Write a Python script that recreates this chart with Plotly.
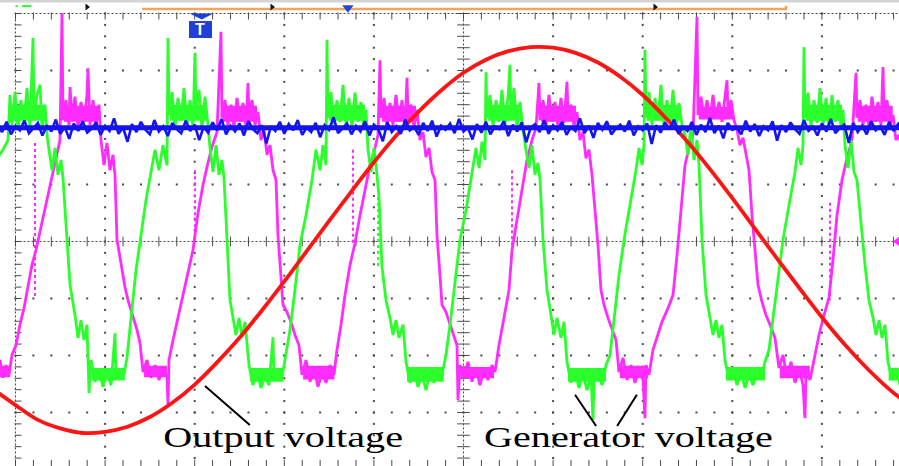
import numpy as np
import plotly.graph_objects as go

# ---------------------------------------------------------------------------
# Oscilloscope capture: 2 ms/div time base, 10 x 8 division graticule.
# Vertical values are in divisions.
# ---------------------------------------------------------------------------

# Output voltage (red), sampled every 0.5 ms
red_t = [-0.5, 0.0, 0.5, 1.0, 1.5, 2.0, 2.5, 3.0, 3.5, 4.0, 4.5, 5.0, 5.5, 6.0,
         6.5, 7.0, 7.5, 8.0, 8.5, 9.0, 9.5, 10.0, 10.5, 11.0, 11.5, 12.0, 12.5,
         13.0, 13.5, 14.0, 14.5, 15.0, 15.5, 16.0, 16.5, 17.0, 17.5, 18.0, 18.5,
         19.0, 19.5, 20.0]
red_v = [-2.59, -2.87, -3.13, -3.28, -3.36, -3.34, -3.25, -3.08, -2.83, -2.51,
         -2.12, -1.69, -1.21, -0.70, -0.17, 0.36, 0.88, 1.39, 1.86, 2.28, 2.65,
         2.96, 3.19, 3.34, 3.41, 3.40, 3.31, 3.14, 2.89, 2.57, 2.18, 1.75, 1.27,
         0.76, 0.23, -0.30, -0.82, -1.33, -1.80, -2.22, -2.59, -2.90]

# Generator phase voltage (green)
green_t = [
    -0.436, -0.279, -0.167, -0.123, -0.078, -0.011, 0.056, 0.123, 0.190, 0.257,
    0.324, 0.391, 0.413, 0.480, 0.547, 0.592, 0.658, 0.703,
    0.748, 0.815, 0.882, 0.949, 1.016, 1.060, 1.150, 1.217, 1.328,
    1.395, 1.462, 1.529, 1.596,
    1.641, 1.685, 1.775, 1.864, 1.953, 2.042, 2.132, 2.221, 2.243, 2.333, 2.422, 2.489,
    2.578, 2.690, 2.801, 2.913, 3.025, 3.114, 3.203, 3.292, 3.382,
    3.404, 3.426, 3.493, 3.560, 3.627, 3.694, 3.761, 3.828, 3.895, 3.962, 4.007,
    4.029, 4.096, 4.163, 4.230, 4.297,
    4.342, 4.408, 4.475, 4.542, 4.609, 4.654, 4.721, 4.788, 4.855,
    4.922, 4.989, 5.056, 5.123, 5.167,
    5.212, 5.301, 5.391, 5.480, 5.569, 5.658, 5.748, 5.770, 5.859, 5.949, 6.038,
    6.127, 6.239, 6.350, 6.484, 6.618, 6.708, 6.797, 6.864, 6.931,
    6.953, 6.975, 7.042, 7.109, 7.176, 7.243, 7.310, 7.377, 7.444, 7.511, 7.578,
    7.645, 7.712, 7.779, 7.824,
    7.868, 7.935, 8.002, 8.069, 8.114, 8.181, 8.270, 8.359,
    8.426, 8.493, 8.560, 8.650,
    8.717, 8.806, 8.895, 8.984, 9.074, 9.163, 9.252, 9.342, 9.431, 9.520, 9.609,
    9.699, 9.810, 9.922, 10.056, 10.190, 10.279, 10.346, 10.413, 10.480,
    10.502, 10.525, 10.592, 10.658, 10.725, 10.792, 10.859, 10.926, 10.993, 11.038,
    11.060, 11.127, 11.194, 11.261, 11.328,
    11.395, 11.462, 11.529, 11.596, 11.663, 11.708, 11.775, 11.864, 11.953,
    12.020, 12.087, 12.176, 12.243,
    12.310, 12.400, 12.489, 12.578, 12.667, 12.757, 12.846, 12.891, 12.913, 13.002,
    13.092, 13.181, 13.270,
    13.359, 13.471, 13.583, 13.717, 13.850, 13.917, 13.984, 14.029,
    14.051, 14.074, 14.141, 14.208, 14.275, 14.342, 14.408, 14.475, 14.542, 14.609,
    14.676, 14.743, 14.810, 14.877,
    14.944, 15.011, 15.078, 15.145, 15.212, 15.257, 15.324, 15.413, 15.502,
    15.569, 15.636, 15.703, 15.770,
    15.837, 15.926, 16.016, 16.105, 16.194, 16.283, 16.373, 16.462, 16.551, 16.641,
    16.730, 16.819,
    16.908, 17.020, 17.132, 17.266, 17.400, 17.467, 17.533, 17.578,
    17.600, 17.623, 17.690, 17.757, 17.824, 17.891, 17.958, 18.025, 18.092, 18.158,
    18.225, 18.292, 18.359, 18.426, 18.471,
    18.516, 18.583, 18.650, 18.717, 18.783, 18.873, 18.962, 19.051, 19.141,
    19.208, 19.275, 19.342, 19.408,
    19.475, 19.565, 19.654, 19.743, 19.833,
]
green_v = [
    1.43, 1.61, 1.78, 2.57, 2.04, 2.62, 1.96, 2.48, 2.10, 2.69,
    1.99, 3.57, 2.13, 2.57, 2.75, 1.96, 2.40, 1.87,
    1.61, 1.25, 1.64, 1.17, 1.43, 1.11, 0.03, -0.76, -1.29,
    -1.69, -1.38, -1.73, -1.46,
    -2.66, -2.08, -2.46, -2.25, -2.55, -2.29, -2.52, -1.61, -2.39, -2.25, -2.34, -2.03,
    -1.38, -0.50, 0.11, 0.73, 1.22, 1.61, 1.25, 1.69, 1.34,
    3.57, 2.22, 2.62, 1.99, 2.52, 2.13, 2.69, 2.04, 2.48, 2.01, 3.31,
    2.31, 2.66, 1.96, 2.54, 2.04,
    1.64, 1.22, 1.69, 1.17, 1.43, 1.11, 0.03, -1.03, -1.34,
    -1.64, -1.34, -1.68, -1.41, -1.73,
    -2.17, -2.52, -2.29, -2.57, -2.34, -2.52, -1.68, -2.43, -2.25, -2.38, -1.99,
    -1.55, -0.85, -0.06, 0.46, 1.08, 1.61, 1.25, 1.69, 1.34,
    3.54, 2.17, 2.62, 2.01, 2.48, 2.10, 2.75, 2.04, 2.52, 1.99, 2.61,
    2.10, 2.45, 1.96, 2.31,
    1.61, 1.22, 1.64, 1.17, 0.78, -0.45, -1.03, -1.34,
    -1.64, -1.38, -1.69, -1.46,
    -2.11, -2.48, -2.25, -2.55, -2.34, -2.61, -2.29, -2.48, -2.22, -2.34, -1.99,
    -1.46, -0.76, 0.03, 0.55, 1.17, 1.64, 1.29, 1.75, 1.43,
    2.97, 2.17, 2.57, 2.01, 2.48, 2.10, 2.66, 2.04, 2.54, 3.10,
    2.13, 2.69, 1.99, 2.45, 1.96,
    1.61, 1.29, 1.69, 1.17, 1.38, 1.08, 0.03, -0.85, -1.29,
    -1.64, -1.34, -1.69, -1.41,
    -2.11, -2.48, -2.25, -2.57, -2.31, -2.61, -2.34, -3.13, -2.43, -2.29,
    -2.52, -2.17, -1.99,
    -1.38, -0.59, 0.03, 0.64, 1.25, 1.64, 1.34, 1.69,
    3.36, 2.18, 2.62, 2.04, 2.52, 2.13, 2.75, 2.01, 2.48, 2.08,
    2.66, 1.99, 2.43, 2.04,
    1.87, 1.52, 2.04, 1.43, 1.78, 1.34, 0.03, -0.94, -1.34,
    -1.64, -1.38, -1.69, -1.46,
    -2.08, -2.43, -2.22, -2.52, -2.29, -2.57, -2.34, -2.52, -2.25, -2.39,
    -2.11, -1.90,
    -1.34, -0.59, 0.03, 0.64, 1.22, 1.64, 1.34, 1.69,
    3.41, 2.17, 2.61, 2.01, 2.48, 2.08, 2.69, 2.04, 2.52, 1.99,
    2.57, 2.10, 2.48, 2.01, 2.31,
    1.69, 1.29, 1.78, 1.22, 1.08, 0.29, -0.41, -1.03, -1.34,
    -1.64, -1.38, -1.69, -1.46,
    -2.11, -2.43, -2.22, -2.52, -2.29,
]

# Generator phase voltage (magenta)
magenta_t = [
    -0.436, -0.346, -0.279, -0.212, -0.145, -0.078,
    0.011, 0.100, 0.190, 0.279, 0.368, 0.458, 0.547, 0.636, 0.725, 0.815, 0.904, 0.993,
    1.038, 1.060, 1.127, 1.194, 1.217, 1.261, 1.328, 1.395, 1.462, 1.529, 1.596,
    1.618, 1.663, 1.730, 1.797, 1.864,
    1.908, 1.975, 2.042, 2.109, 2.176, 2.221, 2.266, 2.355, 2.444,
    2.511, 2.578, 2.645, 2.712, 2.779,
    2.846, 2.935, 3.025, 3.114, 3.203, 3.292, 3.382, 3.404, 3.426,
    3.516, 3.627, 3.739, 3.850, 3.962, 4.074, 4.185, 4.275, 4.386, 4.498,
    4.587, 4.609, 4.676, 4.743, 4.810, 4.877, 4.944, 5.011, 5.078, 5.145, 5.190,
    5.212, 5.279, 5.346, 5.413,
    5.480, 5.547, 5.614, 5.681, 5.748, 5.815, 5.859, 5.926, 5.971,
    6.060, 6.150, 6.239, 6.328,
    6.395, 6.484, 6.574, 6.663, 6.752, 6.842, 6.931, 7.020, 7.109, 7.176,
    7.266, 7.355, 7.467, 7.578, 7.690, 7.801, 7.913, 8.025, 8.092,
    8.136, 8.158, 8.225, 8.292, 8.359, 8.426, 8.493, 8.560, 8.627, 8.694, 8.739,
    8.761, 8.828, 8.895, 8.962,
    9.029, 9.096, 9.163, 9.230, 9.297, 9.364, 9.408, 9.475, 9.520,
    9.609, 9.699, 9.788, 9.855,
    9.877, 9.922, 10.011, 10.100, 10.190, 10.279, 10.368, 10.458, 10.547, 10.636, 10.703,
    10.792, 10.904, 11.016, 11.083, 11.172, 11.283, 11.417, 11.529, 11.618,
    11.685, 11.708, 11.775, 11.842, 11.908, 11.975, 12.042, 12.109, 12.176, 12.243,
    12.310, 12.333, 12.400, 12.467, 12.533,
    12.600, 12.667, 12.734, 12.801, 12.868, 12.935, 13.002, 13.069,
    13.136, 13.225, 13.315, 13.404,
    13.471, 13.560, 13.650, 13.739, 13.828, 13.917, 14.007, 14.051, 14.074, 14.141,
    14.230, 14.297, 14.431, 14.565, 14.676, 14.766, 14.855, 14.944, 15.033, 15.123,
    15.212, 15.234, 15.301, 15.368, 15.435, 15.502, 15.569, 15.636, 15.703, 15.770,
    15.882, 15.904, 15.971, 16.038,
    16.105, 16.172, 16.239, 16.306, 16.373, 16.440, 16.507, 16.574,
    16.663, 16.752, 16.842, 16.953,
    17.042, 17.132, 17.221, 17.310, 17.400, 17.489, 17.578, 17.623, 17.645, 17.734,
    17.824, 17.935, 18.047, 18.158, 18.248, 18.337, 18.449, 18.560, 18.672,
    18.761, 18.783, 18.850, 18.917, 18.984, 19.051, 19.118, 19.185, 19.252, 19.319,
    19.364, 19.386, 19.453, 19.520, 19.587, 19.654, 19.721, 19.810,
]
magenta_v = [
    -2.25, -2.08, -2.39, -2.17, -2.34, -1.99,
    -1.82, -1.46, -1.17, -0.76, -0.41, -0.15, 0.17, 0.46, 0.82, 1.11, 1.43, 1.78,
    4.01, 2.13, 2.48, 2.04, 2.71, 2.17, 2.54, 1.99, 2.45, 2.10, 2.57,
    3.04, 2.04, 2.48, 2.01, 2.40,
    1.78, 1.34, 1.73, 1.25, 1.52, 1.17, 0.03, -0.41, -0.80,
    -1.03, -1.20, -1.41, -1.55, -1.78,
    -2.29, -2.08, -2.39, -2.17, -2.43, -2.22, -2.38, -2.87, -2.08,
    -1.73, -1.34, -0.94, -0.52, -0.15, 0.50, 0.99, 1.31, 1.66, 1.92,
    3.68, 2.17, 2.48, 2.04, 2.40, 1.99, 2.52, 2.10, 2.43, 2.01, 2.78,
    2.22, 2.48, 2.04, 2.27,
    1.78, 1.96, 1.52, 1.69, 1.25, 1.08, 0.11, -0.59, -1.11,
    -1.24, -1.41, -1.64, -1.82,
    -2.34, -2.08, -2.46, -2.22, -2.55, -2.29, -2.48, -2.17, -2.34, -1.90,
    -1.46, -0.94, -0.41, -0.03, 0.46, 0.90, 1.34, 1.64, 1.87,
    3.18, 2.17, 2.52, 2.01, 2.43, 2.04, 2.57, 2.10, 2.48, 1.99, 2.87,
    2.22, 2.40, 2.01, 2.31,
    1.78, 1.92, 1.48, 1.64, 1.22, 1.08, 0.11, -0.59, -1.11,
    -1.24, -1.46, -1.64, -1.82,
    -2.78, -2.17, -2.39, -2.11, -2.46, -2.22, -2.52, -2.25, -2.43, -2.17, -2.29,
    -1.82, -1.34, -0.85, -0.15, 0.29, 0.82, 1.43, 1.78, 1.99,
    2.78, 2.13, 2.48, 2.04, 2.57, 2.10, 2.45, 2.01, 2.52, 2.08,
    2.80, 2.22, 2.40, 2.01, 2.27,
    1.78, 1.92, 1.46, 1.61, 1.17, 0.55, -0.06, -0.85,
    -1.11, -1.34, -1.55, -1.73,
    -2.29, -2.04, -2.43, -2.17, -2.48, -2.25, -2.43, -3.10, -2.17, -2.34,
    -1.90, -1.73, -1.41, -1.17, -0.94, -0.24, 0.55, 1.34, 1.64, 1.87,
    3.94, 2.22, 2.54, 2.17, 2.48, 2.13, 2.57, 2.18, 2.45, 2.10,
    2.83, 2.27, 2.48, 2.13,
    1.96, 1.69, 1.82, 1.52, 1.25, 0.46, -0.15, -0.76,
    -1.06, -1.29, -1.46, -1.69,
    -2.22, -1.99, -2.39, -2.11, -2.48, -2.22, -2.52, -3.10, -2.29, -2.43,
    -2.08, -1.64, -1.29, -0.99, -0.32, 0.46, 1.08, 1.46, 1.78,
    2.96, 2.17, 2.48, 2.04, 2.40, 2.01, 2.54, 2.10, 2.45, 2.04,
    3.06, 2.31, 2.48, 2.04, 2.22, 1.78, 1.87, 1.52,
]

# Dense noise cores on the flat parts of the phase voltages: start, end (ms), top, bottom
green_band_t0 = [-0.10, 3.45, 7.00, 10.55, 14.09, 17.64, 1.70, 5.24, 8.74, 12.33, 15.86, 19.49]
green_band_t1 = [0.68, 4.27, 7.80, 11.30, 14.85, 18.45, 2.44, 5.98, 9.56, 13.18, 16.73, 19.85]
green_band_hi = [2.40, 2.40, 2.40, 2.40, 2.40, 2.40, -2.22, -2.22, -2.20, -2.22, -2.20, -2.22]
green_band_lo = [2.12, 2.12, 2.12, 2.12, 2.12, 2.12, -2.44, -2.46, -2.46, -2.46, -2.44, -2.44]

magenta_band_t0 = [1.08, 4.63, 8.18, 11.73, 15.25, 18.80, -0.44, 2.87, 6.42, 9.94, 13.49, 17.06]
magenta_band_t1 = [1.84, 5.39, 8.94, 12.51, 16.02, 19.58, -0.12, 3.38, 7.12, 10.68, 14.12, 17.73]
magenta_band_hi = [2.38, 2.38, 2.38, 2.38, 2.36, 2.38, -2.18, -2.18, -2.18, -2.20, -2.18, -2.18]
magenta_band_lo = [2.10, 2.10, 2.10, 2.10, 2.14, 2.10, -2.38, -2.38, -2.42, -2.40, -2.40, -2.40]

# Sparse (fast-edge) segments of the phase voltages: time, top, bottom
magenta_edge_t = [0.435, 4.007, 7.533, 11.083, 18.181]
magenta_edge_hi = [1.73, 1.25, 1.61, 1.25, 0.68]
magenta_edge_lo = [-0.97, 0.03, -0.03, -0.10, -1.03]
green_edge_t = [8.092]
green_edge_hi = [0.78]
green_edge_lo = [-0.45]

# DC channel (blue), one record point every 0.1 ms starting at -0.4 ms
blue_v = [
    2.05, 1.92, 2.10, 1.88, 2.02, 1.95, 2.12, 1.90, 1.99, 2.08,
    1.86, 2.04, 1.93, 2.14, 1.89, 2.01, 1.80, 2.07, 1.94, 2.11,
    1.91, 1.98, 2.09, 1.87, 2.03, 1.94, 2.16, 1.89, 2.00, 1.75,
    2.06, 1.92, 2.10, 1.96, 1.88, 2.13, 1.93, 2.02, 1.85, 2.08,
    1.97, 1.90, 2.12, 1.94, 2.05, 1.78, 2.01, 1.91, 2.09, 1.95,
    2.15, 1.88, 2.03, 1.93, 2.07, 1.86, 2.11, 1.97, 1.90, 2.04,
    1.72, 2.02, 1.94, 2.10, 1.89, 2.06, 1.95, 2.13, 1.87, 2.00,
    1.92, 2.08, 1.83, 2.04, 1.96, 2.18, 1.90, 1.99, 2.07, 1.88,
    2.03, 1.93, 2.11, 1.86, 2.05, 1.97, 1.76, 2.09, 1.92, 2.02,
    1.89, 2.14, 1.95, 2.01, 1.87, 2.08, 1.94, 2.12, 1.84, 2.03,
    1.96, 2.07, 1.90, 2.15, 1.93, 1.99, 1.79, 2.06, 1.91, 2.10,
    1.88, 2.02, 1.97, 2.11, 1.85, 2.05, 1.93, 2.09, 1.74, 2.00,
    2.06, 1.92, 2.13, 1.89, 2.04, 1.95, 2.10, 1.87, 2.01, 1.94,
    2.16, 1.90, 2.03, 1.82, 2.08, 1.96, 2.11, 1.88, 1.98, 2.05,
    1.93, 2.12, 1.86, 2.02, 1.95, 2.07, 1.71, 2.04, 1.91, 2.09,
    1.97, 2.14, 1.89, 2.01, 1.94, 2.10, 1.87, 2.05, 1.92, 2.17,
    1.90, 2.03, 1.81, 2.08, 1.96, 2.00, 1.88, 2.12, 1.93, 2.06,
    1.85, 2.02, 1.95, 2.11, 1.77, 2.04, 1.92, 2.09, 1.97, 1.89,
    2.13, 1.94, 2.01, 1.86, 2.07, 1.93, 2.15, 1.90, 1.99, 2.05,
    1.73, 2.08, 1.92, 2.03, 1.88, 2.11, 1.95, 2.02, 1.87, 2.10,
    1.94, 2.06, 1.91,
]
blue_t = np.round(-0.4 + 0.1 * np.arange(len(blue_v)), 2)
blue_band = (1.95, 2.04)

# Graticule
major_x = [2, 4, 6, 8, 12, 14, 16, 18]
major_y = [-3, -2, -1, 1, 2, 3]
center_t, center_v = 10, 0

# Colours
C_GREEN = "#2bff2b"
C_MAGENTA = "#ff2bff"
C_BLUE = "#1414f0"
C_RED = "#ff1414"
C_GRID = "#4a4a4a"

MS_PER_PX = 20.0 / 896.0
DIV_PER_PX = 1.0 / 57.0

fig = go.Figure()

fine_y = np.round(np.arange(-4, 4.001, 0.2), 2)
fine_x = np.round(np.arange(0, 20.001, 0.4), 2)

# dotted major grid lines
gx = [x for x in major_x for _ in fine_y] + [x for _ in major_y for x in fine_x]
gy = [y for _ in major_x for y in fine_y] + [y for y in major_y for _ in fine_x]
fig.add_trace(go.Scatter(x=gx, y=gy, mode="markers",
                         marker=dict(symbol="square", size=2, color=C_GRID, line_width=0),
                         hoverinfo="skip"))

# centre cross and frame: dense dotted lines
for xs, ys in [([center_t, center_t], [-4, 4]), ([0, 20], [center_v, center_v]),
               ([0, 0], [-4, 4]), ([0, 20], [4, 4]), ([0, 20], [-4, -4])]:
    fig.add_trace(go.Scatter(x=xs, y=ys, mode="lines",
                             line=dict(color=C_GRID, width=1, dash="2px,2px"),
                             hoverinfo="skip"))


def ticks(xs, ys, symbol, size):
    fig.add_trace(go.Scatter(x=xs, y=ys, mode="markers", hoverinfo="skip",
                             marker=dict(symbol=symbol, size=size,
                                         line=dict(color=C_GRID, width=1))))


ticks(fine_x, [center_v] * len(fine_x), "line-ns", 7)
ticks([center_t] * len(fine_y), fine_y, "line-ew", 9)
ticks(fine_x, [4 - 2.5 * DIV_PER_PX] * len(fine_x), "line-ns", 5)
ticks([2.5 * MS_PER_PX] * len(fine_y), fine_y, "line-ew", 5)
ticks(fine_x, [-4 + 4 * DIV_PER_PX] * len(fine_x), "line-ns", 8)


def bands(t0s, t1s, his, los, color):
    xs, ys = [], []
    for t0, t1, hi, lo in zip(t0s, t1s, his, los):
        xs += [t0, t1, t1, t0, t0, None]
        ys += [hi, hi, lo, lo, hi, None]
    fig.add_trace(go.Scatter(x=xs, y=ys, mode="lines", fill="toself", fillcolor=color,
                             line=dict(width=0, color=color), hoverinfo="skip"))


def edges(ts, his, los, color):
    xs, ys = [], []
    for t, hi, lo in zip(ts, his, los):
        xs += [t, t, None]
        ys += [hi, lo, None]
    fig.add_trace(go.Scatter(x=xs, y=ys, mode="lines",
                             line=dict(color=color, width=2, dash="dot"), hoverinfo="skip"))


# waveforms
bands(magenta_band_t0, magenta_band_t1, magenta_band_hi, magenta_band_lo, C_MAGENTA)
fig.add_trace(go.Scatter(x=magenta_t, y=magenta_v, mode="lines",
                         line=dict(color=C_MAGENTA, width=2.8), hoverinfo="skip"))
edges(magenta_edge_t, magenta_edge_hi, magenta_edge_lo, C_MAGENTA)

bands(green_band_t0, green_band_t1, green_band_hi, green_band_lo, C_GREEN)
fig.add_trace(go.Scatter(x=green_t, y=green_v, mode="lines",
                         line=dict(color=C_GREEN, width=2.8), hoverinfo="skip"))
edges(green_edge_t, green_edge_hi, green_edge_lo, C_GREEN)

fig.add_trace(go.Scatter(x=red_t, y=red_v, mode="lines",
                         line=dict(color=C_RED, width=3.8, shape="spline"), hoverinfo="skip"))

fig.add_trace(go.Scatter(x=[blue_t[0], blue_t[-1], blue_t[-1], blue_t[0], blue_t[0]],
                         y=[blue_band[1], blue_band[1], blue_band[0], blue_band[0], blue_band[1]],
                         mode="lines", fill="toself", fillcolor=C_BLUE,
                         line=dict(width=0, color=C_BLUE), hoverinfo="skip"))
fig.add_trace(go.Scatter(x=blue_t, y=blue_v, mode="lines",
                         line=dict(color=C_BLUE, width=2.6), hoverinfo="skip"))

# scope status markers along the top
fig.add_trace(go.Scatter(x=[2.824, 17.199, 17.199], y=[4.079, 4.079, 4.13], mode="lines",
                         line=dict(color="#f2a65a", width=2.5), hoverinfo="skip",
                         cliponaxis=False))
fig.add_trace(go.Scatter(x=[1.596, 5.725, 14.275], y=[4.114] * 3, mode="markers",
                         marker=dict(symbol="triangle-right", size=6, color="#111"),
                         hoverinfo="skip", cliponaxis=False))
fig.add_trace(go.Scatter(x=[7.42], y=[4.10], mode="markers",
                         marker=dict(symbol="triangle-down", size=10, color="#2244dd"),
                         hoverinfo="skip", cliponaxis=False))
fig.add_trace(go.Scatter(x=[0.0, 0.05, None, 0.145, 0.346], y=[4.13, 4.13, None, 4.13, 4.13],
                         mode="lines", line=dict(color=C_GREEN, width=2),
                         hoverinfo="skip", cliponaxis=False))
# channel reference marker on the right edge
fig.add_trace(go.Scatter(x=[19.721], y=[0], mode="markers",
                         marker=dict(symbol="triangle-left", size=12, color=C_MAGENTA),
                         hoverinfo="skip", cliponaxis=False))

shapes = [
    dict(type="rect", xref="paper", yref="paper", x0=0, x1=1, y0=1 - 2.5 / 466, y1=1,
         fillcolor="#d4d4d4", line_width=0, layer="above"),
    # trigger position marker
    dict(type="path", xref="x", yref="y", path="M 3.885 4.0 L 4.418 4.0 L 4.156 3.895 Z",
         fillcolor="#1f3fd8", line_width=0),
    dict(type="rect", xref="x", yref="y", x0=3.873, x1=4.386, y0=3.570, y1=3.868,
         fillcolor="#1f3fd8", line_width=0),
    # leader lines of the labels
    dict(type="line", xref="x", yref="y", x0=4.23, y0=-2.535, x1=5.23, y1=-3.219,
         line=dict(color="black", width=2)),
    dict(type="line", xref="x", yref="y", x0=12.49, y0=-2.69, x1=12.96, y1=-3.237,
         line=dict(color="black", width=2)),
    dict(type="line", xref="x", yref="y", x0=13.87, y0=-2.69, x1=13.43, y1=-3.237,
         line=dict(color="black", width=2)),
]

label_font = dict(family="Liberation Serif, Times New Roman, serif", size=28.5, color="black")
annotations = [
    dict(x=4.129, y=3.72, xref="x", yref="y", text="<b>T</b>", showarrow=False,
         font=dict(family="Liberation Sans, Arial, sans-serif", size=16, color="white")),
    dict(x=5.98, y=-3.44, xref="x", yref="y", text="Output voltage", showarrow=False,
         font=label_font, xanchor="center", yanchor="middle"),
    dict(x=13.69, y=-3.44, xref="x", yref="y", text="Generator voltage", showarrow=False,
         font=label_font, xanchor="center", yanchor="middle"),
]

fig.update_layout(
    width=899, height=466,
    margin=dict(l=0, r=0, t=0, b=0),
    paper_bgcolor="white", plot_bgcolor="white",
    showlegend=False,
    xaxis=dict(range=[-0.346, 19.721], visible=False, fixedrange=True),
    yaxis=dict(range=[-3.939, 4.237], visible=False, fixedrange=True),
    shapes=shapes,
    annotations=annotations,
)

# the label lettering is set wide on the screen capture
widen_labels = """
document.querySelectorAll('text.annotation-text').forEach(function (t) {
  if (t.textContent.length < 4) { return; }
  var b = t.getBBox();
  var cx = b.x + b.width / 2;
  t.setAttribute('transform',
    'translate(' + cx + ',0) scale(1.41,1) translate(' + (-cx) + ',0)');
});
"""

fig.write_html("out.html", config={"displayModeBar": False}, post_script=widen_labels)
